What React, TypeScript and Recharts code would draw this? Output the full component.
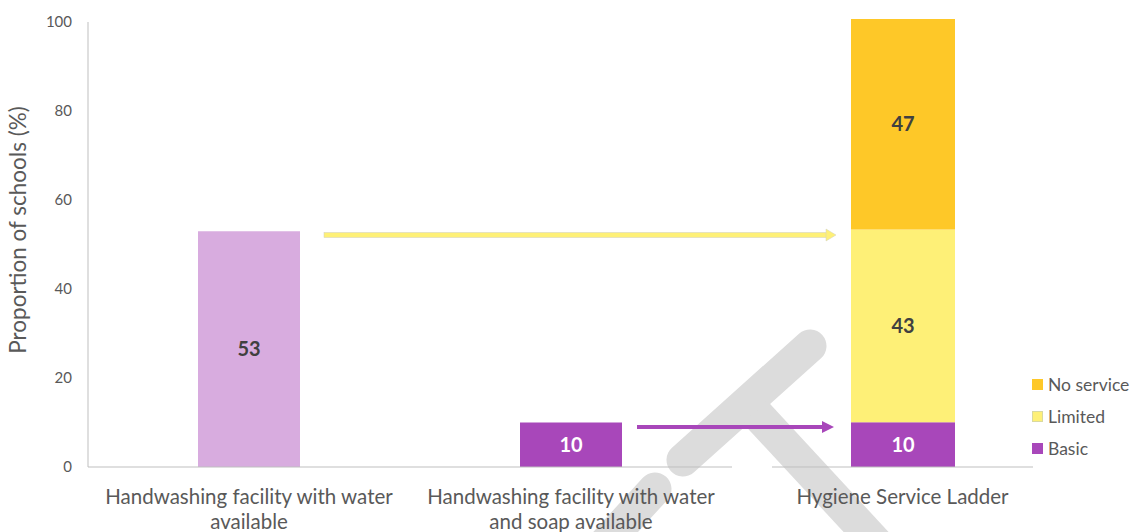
import React from "react"
import { BarChart, Bar, XAxis, YAxis, Cell, LabelList } from "recharts"

// facility indicators (left panel)
const facilityNames = [
  "Handwashing facility with water available",
  "Handwashing facility with water and soap available",
]
const facilityValues = [53, 10]
const facilityColors = ["#D8ACDF", "#A847BA"]
const facilityLabelColors = ["#404040", "#FFFFFF"]

// service ladder (right panel)
const ladderNames = ["Hygiene Service Ladder"]
const basicValues = [10]
const limitedValues = [43]
const noServiceValues = [47]

const yTicks = [0, 20, 40, 60, 80, 100]

const ladderSeries = [
  { key: "noService", name: "No service", color: "#FEC828", text: "#404040" },
  { key: "limited", name: "Limited", color: "#FEF077", text: "#404040" },
  { key: "basic", name: "Basic", color: "#A847BA", text: "#FFFFFF" },
]

const facilityData = facilityNames.map((name, i) => ({ name, value: facilityValues[i] }))
const ladderData = ladderNames.map((name, i) => ({
  name,
  basic: basicValues[i],
  limited: limitedValues[i],
  noService: noServiceValues[i],
}))

const FONT = "Lato, 'Open Sans', sans-serif"
const GREY = "#595959"
const AXIS = "#BFBFBF"

// greedy word wrap by character count
function wrapLabel(label: string, maxChars = 31) {
  const lines: string[] = []
  let cur = ""
  for (const w of label.split(" ")) {
    const next = cur ? cur + " " + w : w
    if (next.length > maxChars && cur) {
      lines.push(cur)
      cur = w
    } else {
      cur = next
    }
  }
  if (cur) lines.push(cur)
  return lines
}

function CategoryTick(props: any) {
  const { x, y, payload } = props
  return (
    <text x={x} y={y + 29} textAnchor="middle" fill={GREY} fontSize={20.5} fontFamily={FONT}>
      {wrapLabel(payload.value).map((line, i) => (
        <tspan key={i} x={x} dy={i === 0 ? 0 : 25}>
          {line}
        </tspan>
      ))}
    </text>
  )
}

function valueLabel(color: string) {
  return (p: any) => (
    <text
      x={p.x + p.width / 2}
      y={p.y + p.height / 2}
      dy={7}
      textAnchor="middle"
      fontWeight="bold"
      fontSize={20}
      fontFamily={FONT}
      fill={color}
    >
      {p.value}
    </text>
  )
}

function LadderLegend() {
  return (
    <div style={{ position: "absolute", left: 1032, top: 368, fontFamily: FONT, fontSize: 17.5, color: GREY }}>
      {ladderSeries.map((s) => (
        <div key={s.key} style={{ display: "flex", alignItems: "center", height: 32, whiteSpace: "nowrap" }}>
          <span
            style={{
              display: "inline-block",
              width: 11,
              height: 11,
              background: s.color,
              border: s.key === "limited" ? "1px solid #D9D9A0" : "none",
              boxSizing: "border-box",
              marginRight: 5,
            }}
          />
          {s.name}
        </div>
      ))}
    </div>
  )
}

export default function App() {
  return (
    <div style={{ position: "relative", width: 1133, height: 532, overflow: "hidden", background: "#fff" }}>
      <style>{"body{margin:0}"}</style>

      {/* faint grey mark behind the plot */}
      <svg width={1133} height={532} style={{ position: "absolute", left: 0, top: 0 }}>
        <g stroke="#DCDCDC" strokeWidth={33} fill="none">
          <line x1={683} y1={460} x2={810} y2={346} strokeLinecap="round" />
          <line x1={755} y1={412} x2={892} y2={560} strokeLinecap="butt" />
          <line x1={655} y1={489} x2={590} y2={560} strokeLinecap="round" />
        </g>
      </svg>

      <div style={{ position: "absolute", left: 0, top: 0 }}>
        <BarChart
          width={740}
          height={532}
          data={facilityData}
          margin={{ top: 22, right: 8, left: 0, bottom: 0 }}
        >
          <XAxis
            dataKey="name"
            height={65}
            axisLine={{ stroke: AXIS }}
            tickLine={false}
            interval={0}
            tick={<CategoryTick />}
          />
          <YAxis
            width={88}
            domain={[0, 100]}
            ticks={yTicks}
            axisLine={{ stroke: AXIS }}
            tickLine={false}
            tickMargin={10}
            tick={{ fill: GREY, fontSize: 15, fontFamily: FONT }}
            label={{
              content: () => (
                <text
                  transform="translate(26,230) rotate(-90)"
                  textAnchor="middle"
                  fill={GREY}
                  fontSize={22.5}
                  fontFamily={FONT}
                >
                  Proportion of schools (%)
                </text>
              ),
            }}
          />
          <Bar dataKey="value" barSize={102} isAnimationActive={false}>
            {facilityData.map((d, i) => (
              <Cell key={d.name} fill={facilityColors[i]} />
            ))}
            <LabelList
              dataKey="value"
              content={(p: any) => valueLabel(facilityLabelColors[p.index])(p)}
            />
          </Bar>
        </BarChart>
      </div>

      <div style={{ position: "absolute", left: 772, top: 0 }}>
        <BarChart
          width={361}
          height={532}
          data={ladderData}
          margin={{ top: 19, right: 100, left: 0, bottom: 0 }}
        >
          <XAxis
            dataKey="name"
            height={65}
            axisLine={{ stroke: AXIS }}
            tickLine={false}
            interval={0}
            tick={<CategoryTick />}
          />
          <YAxis hide domain={[0, 100]} />
          {[...ladderSeries].reverse().map((s) => (
            <Bar
              key={s.key}
              dataKey={s.key}
              name={s.name}
              stackId="ladder"
              fill={s.color}
              barSize={104}
              isAnimationActive={false}
            >
              <LabelList dataKey={s.key} content={valueLabel(s.text)} />
            </Bar>
          ))}
        </BarChart>
      </div>

      <LadderLegend />

      {/* arrows linking the indicators to the ladder */}
      <svg width={1133} height={532} style={{ position: "absolute", left: 0, top: 0, pointerEvents: "none" }}>
        <rect x={324} y={232.5} width={503} height={5} fill="#FEF077" stroke="#D0D0C0" strokeWidth={0.5} />
        <polygon points="826,229 836,235 826,241" fill="#FEF077" stroke="#D0D0C0" strokeWidth={0.5} />
        <line x1={637} y1={427} x2={824} y2={427} stroke="#A847BA" strokeWidth={4} />
        <polygon points="822,421 834,427 822,433" fill="#A847BA" />
      </svg>
    </div>
  )
}
